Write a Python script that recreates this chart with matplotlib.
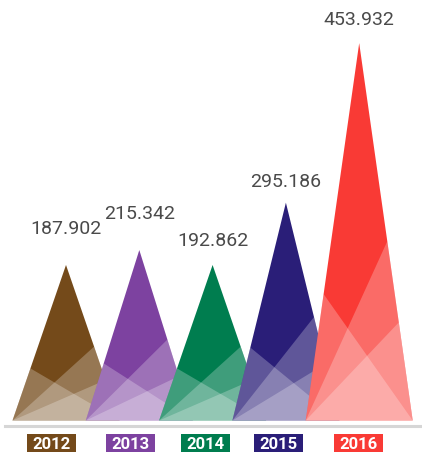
import matplotlib
matplotlib.use("Agg")
import matplotlib.pyplot as plt
from matplotlib.patches import Polygon, Rectangle

# ---- data ----
categories = ["2012", "2013", "2014", "2015", "2016"]
values = [187.902, 215.342, 192.862, 295.186, 453.932]      # label values
heights = [186.5, 204.4, 186.5, 261.2, 452.5]                 # drawn triangle heights
colors = ["#744A1A", "#7D42A0", "#007D4F", "#2A1E78", "#F93A35"]

# style / layout
half_w = 0.73
overlay_fracs = [("L", 0.335), ("R", 0.475), ("R", 0.26)]
label_gap_pt = [26, 26, 17, 15, 17]
cat_label_shift = [-0.2, -0.12, -0.097, -0.104, -0.01]

W, H = 422, 455
fig = plt.figure(figsize=(W / 100, H / 100), dpi=100)
base_px = 34.5
ax = fig.add_axes([0, base_px / H, 1, 1 - base_px / H])
ax.set_xlim(-66 / 73.3, (W - 66) / 73.3)
ax.set_ylim(0, (H - base_px) / 0.834)
ax.axis("off")

for i, (h, c) in enumerate(zip(heights, colors)):
    xl, xr, apex = i - half_w, i + half_w, (i, h)
    ax.add_patch(Polygon([(xl, 0), (xr, 0), apex], closed=True,
                         facecolor=c, edgecolor="none", zorder=2 + i))
    for side, f in overlay_fracs:
        if side == "L":
            px = xl + (i - xl) * f
        else:
            px = xr - (xr - i) * f
        ax.add_patch(Polygon([(xl, 0), (xr, 0), (px, h * f)], closed=True,
                             facecolor="white", alpha=0.25, edgecolor="none",
                             zorder=2 + i))
    ax.annotate(f"{values[i]:.3f}", xy=(i, h), xytext=(0, label_gap_pt[i]),
                textcoords="offset points", ha="center", va="center",
                fontsize=14, color="#4a4a4a",
                family=["Roboto", "DejaVu Sans"], zorder=20)

# baseline
fig.add_artist(plt.Line2D([5 / W, 1], [1 - 425.7 / H] * 2,
                          color="#d6d6d6", lw=2.2, transform=fig.transFigure))

# category labels in coloured boxes
fig.canvas.draw()
box_w, box_h, box_off = 49, 18, 22.2   # pixels
for i, (cat, c) in enumerate(zip(categories, colors)):
    cx, by = ax.transData.transform((i + cat_label_shift[i], 0))
    cy = by - box_off
    fig.add_artist(Rectangle((cx - box_w / 2, cy - box_h / 2), box_w, box_h,
                             transform=None, facecolor=c, edgecolor="none"))
    fig.text(cx / W, cy / H, cat, ha="center", va="center_baseline",
             fontsize=12, fontweight="bold", color="white",
             family=["Roboto", "DejaVu Sans"])

fig.savefig("out.png", dpi=100)
